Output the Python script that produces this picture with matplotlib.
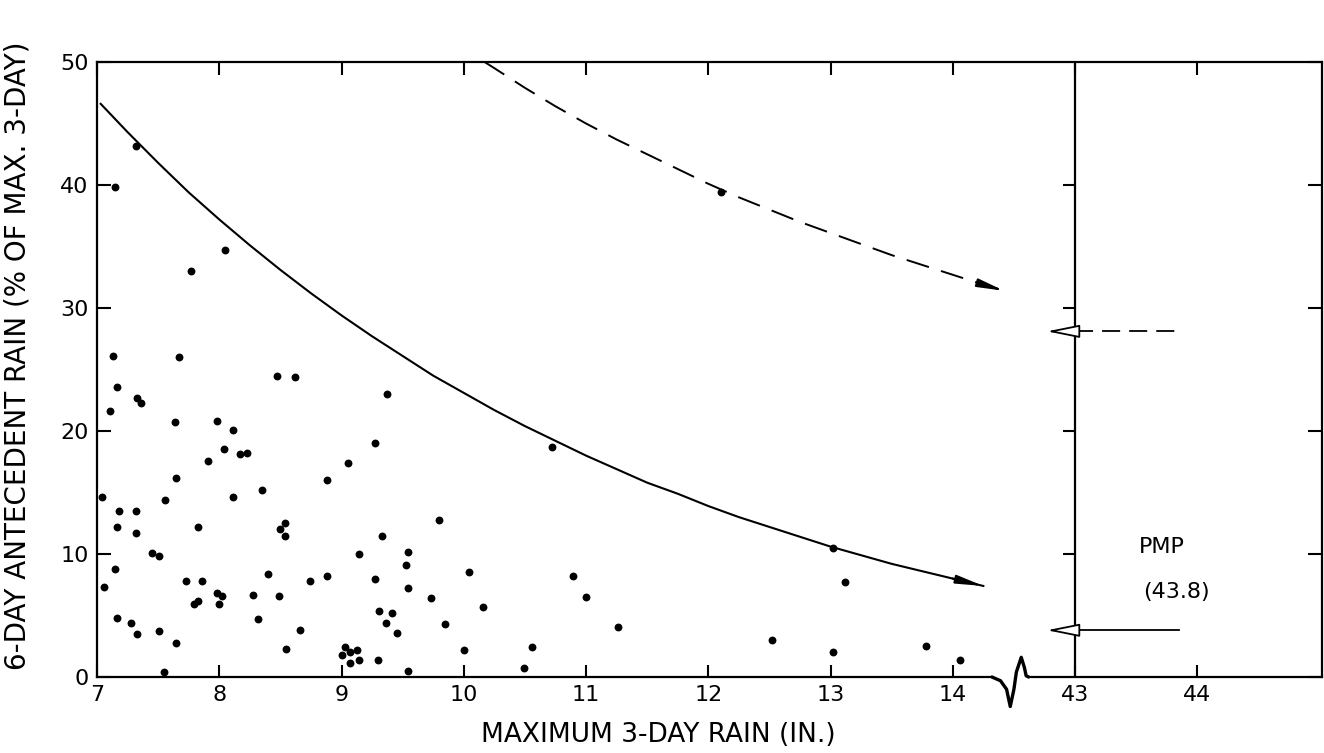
"""Antecedent rain vs maximum 3-day rain, with envelope curves and PMP."""

import matplotlib

matplotlib.use("Agg")
import matplotlib.pyplot as plt

plt.rcParams["font.family"] = ["DejaVu Sans"]

# observed storms: max 3-day rain (in.) and 6-day antecedent rain (% of max 3-day)
rain_3day = [
    7.13, 7.67, 7.16, 7.33, 7.36, 7.11, 7.64, 7.98, 8.11, 8.04, 7.91, 8.17, 8.23,
    7.65, 8.11, 8.35, 8.47, 8.62, 9.37, 9.27, 9.05, 8.88, 7.04, 7.56, 7.18, 7.32,
    7.16, 7.32, 7.83, 8.54, 8.50, 8.54, 7.45, 7.51, 7.15, 7.06, 7.73, 7.86, 7.83,
    7.79, 7.98, 8.02, 8.00, 8.40, 8.28, 8.49, 8.32, 8.74, 8.88, 8.66, 8.55, 7.16,
    7.28, 7.33, 7.51, 7.65, 7.55, 9.14, 9.33, 9.27, 9.31, 9.41, 9.36, 9.45, 9.54,
    9.53, 9.54, 9.80, 9.73, 9.85, 10.04, 10.00, 9.30, 9.54, 9.03, 9.00, 9.07,
    9.13, 9.07, 9.14, 7.32, 7.15, 7.77, 8.05, 10.72, 10.16, 10.56, 10.49, 10.89,
    11.00, 11.26, 12.52, 13.02, 13.12, 13.02, 13.78, 14.06, 12.10,
]
antecedent_pct = [
    26.1, 26.0, 23.6, 22.7, 22.3, 21.6, 20.7, 20.8, 20.1, 18.5, 17.6, 18.1, 18.2,
    16.2, 14.6, 15.2, 24.5, 24.4, 23.0, 19.0, 17.4, 16.0, 14.6, 14.4, 13.5, 13.5,
    12.2, 11.7, 12.2, 12.5, 12.0, 11.5, 10.1, 9.8, 8.8, 7.3, 7.8, 7.8, 6.2,
    5.9, 6.8, 6.6, 5.9, 8.4, 6.7, 6.6, 4.7, 7.8, 8.2, 3.8, 2.3, 4.8,
    4.4, 3.5, 3.7, 2.8, 0.4, 10.0, 11.5, 8.0, 5.4, 5.2, 4.4, 3.6, 10.2,
    9.1, 7.2, 12.8, 6.4, 4.3, 8.5, 2.2, 1.4, 0.5, 2.4, 1.8, 2.0,
    2.2, 1.1, 1.4, 43.2, 39.8, 33.0, 34.7, 18.7, 5.7, 2.4, 0.7, 8.2,
    6.5, 4.1, 3.0, 10.5, 7.7, 2.0, 2.5, 1.4, 39.4,
]

# envelope curves, every quarter inch
solid_x = [7.03, 7.25, 7.5, 7.75, 8.0, 8.25, 8.5, 8.75, 9.0, 9.25, 9.5, 9.75,
           10.0, 10.25, 10.5, 10.75, 11.0, 11.25, 11.5, 11.75, 12.0, 12.25,
           12.5, 12.75, 13.0, 13.25, 13.5, 13.75, 14.0, 14.25]
solid_y = [46.6, 44.3, 41.8, 39.4, 37.2, 35.1, 33.1, 31.2, 29.4, 27.7, 26.1, 24.5,
           23.1, 21.7, 20.4, 19.2, 18.0, 16.9, 15.8, 14.9, 13.9, 13.0,
           12.2, 11.4, 10.6, 9.9, 9.2, 8.6, 8.0, 7.4]
dashed_x = [10.17, 10.25, 10.5, 10.75, 11.0, 11.25, 11.5, 11.75, 12.0, 12.25,
            12.5, 12.75, 13.0, 13.25, 13.5, 13.75, 14.0, 14.25, 14.42]
dashed_y = [50.0, 49.5, 47.9, 46.4, 45.0, 43.7, 42.5, 41.3, 40.1, 39.0,
            38.0, 37.0, 36.1, 35.2, 34.3, 33.5, 32.7, 31.9, 31.4]

PMP = 43.8
PMP_DASHED = 28.1
PMP_SOLID = 3.8

# break in x-axis: values >= 43 are drawn shifted left so 43 sits at 15
SHIFT = 28.0
X_TICKS = [7, 8, 9, 10, 11, 12, 13, 14, 43, 44]
Y_TICKS = [0, 10, 20, 30, 40, 50]


def pos(x):
    return x - SHIFT if x >= 43 else x


fig = plt.figure(figsize=(13.24, 7.53), dpi=100)
ax = fig.add_axes([97 / 1324, 76 / 753, 1225 / 1324, 615 / 753])
ax.set_xlim(7, 17.02)
ax.set_ylim(0, 50)

ax.scatter(rain_3day, antecedent_pct, s=32, color="black", zorder=3,
           linewidths=0, clip_on=False)

# solid envelope with arrow head
ax.plot(solid_x, solid_y, color="black", lw=1.5)
ax.annotate("", xy=(solid_x[-1], solid_y[-1]), xytext=(solid_x[-2], solid_y[-2]),
            arrowprops={"arrowstyle": "-|>,head_length=1.6,head_width=0.25",
                        "color": "black", "lw": 1.5, "shrinkA": 0, "shrinkB": 0})

# dashed envelope with arrow head
ax.plot(dashed_x, dashed_y, color="black", lw=1.4, dashes=(12, 6.5))
ax.annotate("", xy=(dashed_x[-1], dashed_y[-1]), xytext=(dashed_x[-2], dashed_y[-2]),
            arrowprops={"arrowstyle": "-|>,head_length=1.6,head_width=0.25",
                        "color": "black", "lw": 1.4, "shrinkA": 0, "shrinkB": 0})

# vertical line at 43 with inward ticks on its left
x43 = pos(43)
ax.plot([x43, x43], [0, 50], color="black", lw=1.6)
ax.hlines([10, 20, 30, 40], x43 - 0.1, x43, color="black", lw=1.5)

# PMP markers: lines out to 43.8 and open arrowheads at the 43 line
ax.plot([x43, pos(PMP) + 0.07], [PMP_DASHED, PMP_DASHED], color="black",
        lw=1.3, dashes=(10, 5))
ax.plot([x43, pos(PMP) + 0.05], [PMP_SOLID, PMP_SOLID], color="black", lw=1.3)
for yv in (PMP_DASHED, PMP_SOLID):
    ax.annotate("", xy=(x43 - 0.23, yv), xytext=(x43, yv),
                arrowprops={"arrowstyle": "-|>,head_length=2.0,head_width=0.4",
                            "fc": "white", "ec": "black", "lw": 1.3,
                            "shrinkA": 0, "shrinkB": 0})

ax.text(pos(PMP) - 0.09, 10.6, "PMP", ha="center", va="center", fontsize=16)
ax.text(pos(PMP) + 0.03, 6.9, "(43.8)", ha="center", va="center", fontsize=16)

# bottom spine drawn by hand so it can carry the break squiggle
ax.spines["bottom"].set_visible(False)
brk = 14.32
ax.plot([7, brk], [0, 0], color="black", lw=1.6, clip_on=False)
sq_dx = [0, 0.07, 0.12, 0.15, 0.18, 0.20, 0.24, 0.265, 0.28, 0.30]
sq_dy = [0, -0.3, -1.0, -2.4, -1.0, 0.4, 1.6, 0.8, 0.1, 0]
ax.plot([brk + d for d in sq_dx], sq_dy, color="black", lw=2.4,
        clip_on=False, solid_capstyle="round")
ax.plot([brk + 0.30, 17.02], [0, 0], color="black", lw=1.6, clip_on=False)

for side in ("left", "right", "top"):
    ax.spines[side].set_linewidth(1.6)

ax.set_xticks([pos(v) for v in X_TICKS])
ax.set_xticklabels([str(v) for v in X_TICKS])
ax.set_yticks(Y_TICKS)
ax.set_yticklabels([str(v) for v in Y_TICKS])
ax.tick_params(axis="x", which="both", direction="in", top=True, bottom=True,
               length=9, width=1.5, labelsize=16, pad=6)
ax.tick_params(axis="y", which="both", direction="in", left=True, right=True,
               length=10, width=1.5, labelsize=16, pad=6)

fig.text(658 / 1324, 1 - 735 / 753, "MAXIMUM 3-DAY RAIN (IN.)", ha="center",
         va="center", fontsize=19)
fig.text(18 / 1324, 1 - 356 / 753, "6-DAY ANTECEDENT RAIN (% OF MAX. 3-DAY)",
         ha="center", va="center", rotation=90, fontsize=20)

fig.savefig("out.png", dpi=100)
